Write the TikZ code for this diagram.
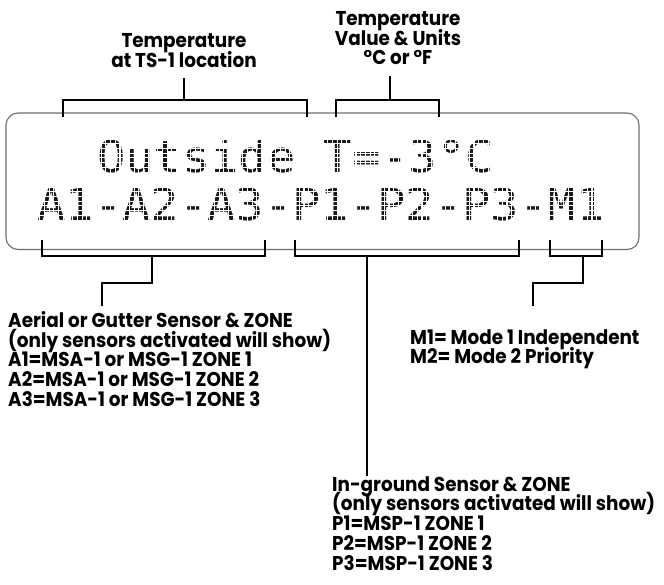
\documentclass[tikz,border=0pt]{standalone}
\usepackage{fontspec}
\newfontfamily\lblfont{Poppins}[UprightFont=* Bold, FakeStretch=0.92]
\newfontfamily\lcdfont{DejaVu Sans Mono}[FakeStretch=1.07]
\newcommand\lblsize{\fontsize{20}{19.8}\selectfont\lineskiplimit-20pt\relax}
\usepackage{tikz}
\usetikzlibrary{calc}
\definecolor{PanelGray}{RGB}{110,110,110}
\definecolor{DotBlack}{RGB}{25,25,25}
\tikzset{
  % LCD panel outline
  panel/.style={draw=PanelGray, line width=1.1pt, rounded corners=12pt},
  % dot matrix rows
  lcdrow/.style={font=\lcdfont\fontsize{44}{44}\selectfont, text=DotBlack,
    inner sep=0pt, anchor=base west},
  % gaps between the dots
  dotgap/.style={white, line width=1.1pt},
  % brackets and leader lines
  brk/.style={line width=2.6pt, line join=miter, black},
  % callout text
  lbl/.style={font=\lblfont\lblsize, inner sep=0pt},
}
\begin{document}
\begin{tikzpicture}[x=1pt,y=-1pt]
  \useasboundingbox (0,0) rectangle (664,584);

  %% LCD panel and its two rows
  \draw[panel] (6,113) rectangle (639,249.5);
  \node[lcdrow] (row1) at (97,172) {Outside T=-3°C};
  \node[lcdrow] (row2) at (37.3,220) {A1-A2-A3-P1-P2-P3-M1};
  \foreach \k in {0,...,122}
    \draw[dotgap] (35+\k*4.72,136) -- ++(0,39) (35+\k*4.72,184) -- ++(0,39);
  \foreach \k in {1,...,7}
    \draw[dotgap] (30,172-\k*4.72) -- (615,172-\k*4.72)
                  (30,220-\k*4.72) -- (615,220-\k*4.72);

  %% Callout texts
  \node[lbl, align=center, anchor=north] (tslbl) at (184,33)
    {Temperature\\at TS-1 location};
  \node[lbl, align=center, anchor=north] (unitlbl) at (398,11)
    {Temperature\\Value \& Units\\°C or °F};
  \node[lbl, align=left, anchor=north west] (alabel) at (8,311)
    {Aerial or Gutter Sensor \& ZONE\\(only sensors activated will show)\\
     A1=MSA-1 or MSG-1 ZONE 1\\A2=MSA-1 or MSG-1 ZONE 2\\A3=MSA-1 or MSG-1 ZONE 3};
  \node[lbl, align=left, anchor=north west] (mlabel) at (410,329)
    {M1= Mode 1 Independent\\M2= Mode 2 Priority};
  \node[lbl, align=left, anchor=north west] (plabel) at (332,476)
    {In-ground Sensor \& ZONE\\(only sensors activated will show)\\
     P1=MSP-1 ZONE 1\\P2=MSP-1 ZONE 2\\P3=MSP-1 ZONE 3};

  %% Bracket ends on the panel
  \coordinate (tsL) at (63,117);   \coordinate (tsR) at (307,117);
  \coordinate (unL) at (336,117);  \coordinate (unR) at (439,117);
  \coordinate (aL) at (42,240);    \coordinate (aR) at (265,240);
  \coordinate (pL) at (295,240);   \coordinate (pR) at (519,240);
  \coordinate (mL) at (550,240);   \coordinate (mR) at (602,240);
  \coordinate (aEnd) at (102,306);
  \coordinate (mEnd) at (533,306);

  %% Top brackets
  \draw[brk] (tsL) -- ++(0,-17) -| (tsR);
  \draw[brk] (184,100) -- ([yshift=-11pt]tslbl.south -| 184,0);
  \draw[brk] (unL) -- ++(0,-17) -| (unR);
  \draw[brk] (390,100) -- ([yshift=-11pt]unitlbl.south -| 390,0);

  %% Bottom brackets
  \draw[brk] (aL) -- ++(0,16) -| (aR);
  \draw[brk] (152,256) -- (152,283) -| (aEnd);
  \draw[brk] (pL) -- ++(0,16) -| (pR);
  \draw[brk] (367,256) -- (plabel.north -| 367,0);
  \draw[brk] (mL) -- ++(0,16) -| (mR);
  \draw[brk] (583,256) -- (583,283) -| (mEnd);
\end{tikzpicture}
\end{document}
